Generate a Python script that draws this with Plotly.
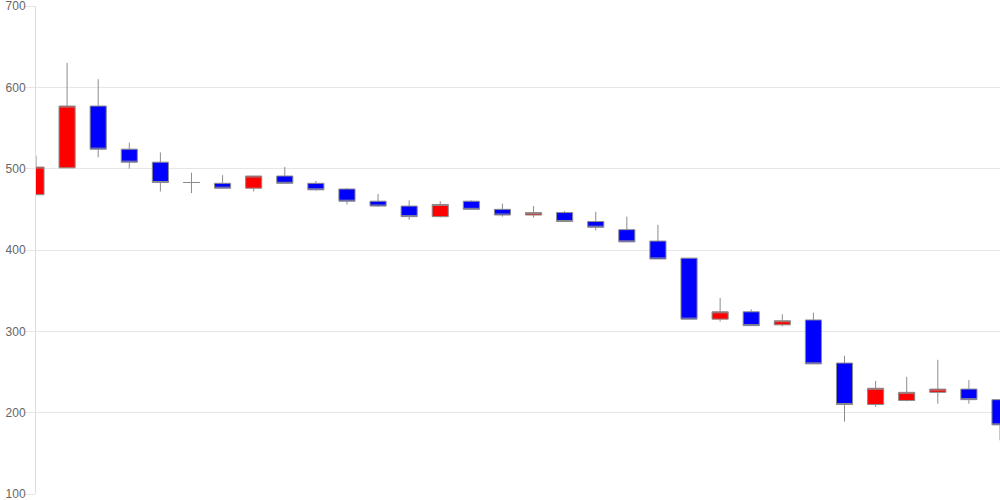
"""
Candlestick chart — daily OHLC, red up / blue down.
"""

import plotly.graph_objects as go

# candle index (one per session)
SESSIONS = list(range(32))

OPEN = [468, 501, 577, 524, 508, 483, 482, 476, 491, 482,
        475, 460, 454, 441, 460, 450, 443, 446, 435, 425,
        411, 390, 315, 324, 308, 314, 261, 210, 215, 225,
        229, 216]
HIGH = [516, 630, 610, 532, 520, 495, 492, 491, 502, 485,
        476, 469, 461, 460, 461, 457, 454, 448, 447, 441,
        431, 390, 341, 327, 321, 323, 270, 239, 244, 265,
        240, 216]
LOW = [468, 501, 514, 500, 472, 470, 475, 472, 481, 473,
       456, 453, 437, 440, 450, 441, 440, 435, 424, 410,
       389, 315, 312, 307, 306, 260, 189, 207, 214, 211,
       211, 166]
CLOSE = [502, 577, 524, 508, 483, 483, 476, 491, 482, 474,
         460, 454, 441, 456, 450, 443, 446, 435, 428, 410,
         389, 315, 324, 307, 313, 260, 210, 230, 225, 229,
         216, 185]

Y_TICKS = [100, 200, 300, 400, 500, 600, 700]

GRID = "#e6e6e6"
OUTLINE = "#8c8c8c"

fig = go.Figure(
    go.Candlestick(
        x=SESSIONS,
        open=OPEN,
        high=HIGH,
        low=LOW,
        close=CLOSE,
        increasing=dict(fillcolor="#ff0000", line=dict(color=OUTLINE, width=1)),
        decreasing=dict(fillcolor="#0000ff", line=dict(color=OUTLINE, width=1)),
        whiskerwidth=0,
        showlegend=False,
    )
)

fig.update_layout(
    width=1000,
    height=500,
    margin=dict(l=36, r=0, t=6, b=6, pad=0, autoexpand=False),
    paper_bgcolor="#ffffff",
    plot_bgcolor="#ffffff",
    boxgap=0.26,
    font=dict(family="Liberation Sans, Arial, sans-serif", size=12, color="#666666"),
)
fig.update_xaxes(
    range=[0, 31],
    showticklabels=False,
    showgrid=False,
    zeroline=False,
    rangeslider_visible=False,
    showline=False,
    automargin=False,
)
fig.update_yaxes(
    range=[100, 700],
    tickmode="array",
    tickvals=Y_TICKS,
    ticks="outside",
    ticklen=10,
    tickcolor=GRID,
    ticklabeloverflow="allow",
    ticklabelstandoff=-3,
    automargin=False,
    showgrid=True,
    gridcolor=GRID,
    gridwidth=1,
    zeroline=False,
    showline=True,
    linecolor="#dddddd",
    linewidth=1,
)

# page body has an 8px default margin; drop it so the chart sits at 0,0
fig.write_html(
    "out.html",
    config={"displayModeBar": False},
    post_script="document.body.style.margin='0';",
)
